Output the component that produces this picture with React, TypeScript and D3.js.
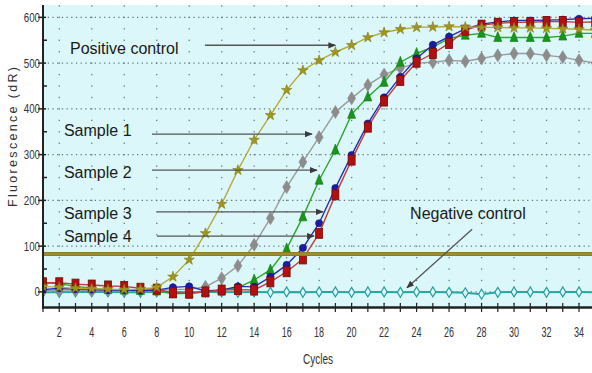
import React from 'react';
import * as d3 from 'd3';

const cycles = d3.range(1, 36);
const positiveControl = [12, 10, 8, 7, 6, 5, 6, 10, 33, 70, 128, 192, 266, 332, 386, 441, 484, 506, 524, 539, 556, 567, 574, 578, 579, 580, 579, 578, 578, 577, 577, 576, 575, 574, 572];
const sample1 = [3, 4, 4, 3, 3, 3, 3, 4, 5, 6, 11, 30, 57, 103, 161, 229, 284, 338, 393, 423, 452, 475, 489, 500, 502, 506, 504, 510, 517, 521, 521, 517, 513, 506, 500];
const sample2 = [20, 18, 12, 8, 5, 4, 3, 2, -4, -3, 0, 4, 9, 26, 48, 94, 164, 244, 310, 388, 426, 458, 502, 521, 535, 554, 561, 565, 556, 556, 556, 556, 559, 565, 565];
const sample3 = [5, 8, 6, 5, 4, 4, 3, 4, 10, 12, 2, 4, 12, 11, 33, 59, 96, 150, 227, 299, 368, 425, 470, 510, 540, 558, 575, 585, 590, 593, 593, 594, 595, 597, 598];
const sample4 = [20, 20, 17, 15, 13, 12, 8, 6, -2, -3, 0, 4, 5, 4, 22, 44, 72, 128, 212, 288, 360, 417, 462, 502, 521, 543, 572, 583, 587, 589, 589, 591, 591, 589, 590];
const negativeControl = [-1, -1, 0, 0, 0, -1, -1, 0, 0, -1, 0, 0, -1, 0, -1, 0, -1, 0, 0, -1, 0, 0, -1, 0, 0, -1, -2, -5, -1, 0, 0, -1, 0, 0, -1];
const thresholdValue = 83;

const yTicks = [0, 100, 200, 300, 400, 500, 600];
const xTickLabels = [2, 4, 6, 8, 10, 12, 14, 16, 18, 20, 22, 24, 26, 28, 30, 32, 34];

const annotationTexts = ['Positive control', 'Sample 1', 'Sample 2', 'Sample 3', 'Sample 4', 'Negative control'];
const annotationTextPos = [[2.66, 521], [2.29, 340], [2.29, 249], [2.29, 159], [2.29, 109], [23.6, 159]];
const annotationArrows = [
  [[10.97, 539], [19.0, 539]],
  [[7.71, 345], [17.56, 345]],
  [[7.71, 266], [17.87, 266]],
  [[8.02, 175], [18.24, 175]],
  [[8.02, 122], [17.69, 122]],
  [[27.42, 137], [23.41, 9]],
];

const W = 592, H = 373;
const x = d3.scaleLinear().domain([1, 34.8]).range([43, 592]);
const y = d3.scaleLinear().domain([-33, 627]).range([307, 5]);

type Series = { name: string; values: number[]; line: string; fill: string; stroke: string; kind: string };

const series: Series[] = [
  { name: 'neg', values: negativeControl, line: '#2aa5a5', fill: '#dff8fa', stroke: '#2a9e9e', kind: 'openDiamond' },
  { name: 's1', values: sample1, line: '#9a9a9a', fill: '#8c8c8c', stroke: '#8c8c8c', kind: 'diamond' },
  { name: 's2', values: sample2, line: '#2ea52e', fill: '#18951a', stroke: '#127a12', kind: 'triangle' },
  { name: 's3', values: sample3, line: '#2a2ab0', fill: '#1c1ca0', stroke: '#10107a', kind: 'circle' },
  { name: 's4', values: sample4, line: '#b84040', fill: '#b01010', stroke: '#7a0a0a', kind: 'square' },
  { name: 'pos', values: positiveControl, line: '#b3aa3c', fill: '#a0961f', stroke: '#857c14', kind: 'star' },
];

function Marker({ kind, cx, cy, fill, stroke }: { kind: string; cx: number; cy: number; fill: string; stroke: string }) {
  if (kind === 'square') return <rect x={cx - 3.5} y={cy - 5} width={7} height={10} fill={fill} stroke={stroke} strokeWidth={0.8} />;
  if (kind === 'circle') return <circle cx={cx} cy={cy} r={3.6} fill={fill} stroke={stroke} strokeWidth={0.6} />;
  if (kind === 'diamond') return <path d={`M${cx},${cy - 6.5}L${cx + 4},${cy}L${cx},${cy + 6.5}L${cx - 4},${cy}Z`} fill={fill} stroke={stroke} strokeWidth={0.6} />;
  if (kind === 'openDiamond') return <path d={`M${cx},${cy - 5}L${cx + 3},${cy}L${cx},${cy + 5}L${cx - 3},${cy}Z`} fill={fill} stroke={stroke} strokeWidth={1.2} />;
  if (kind === 'triangle') return <path d={`M${cx},${cy - 6}L${cx + 4},${cy + 4}L${cx - 4},${cy + 4}Z`} fill={fill} stroke={stroke} strokeWidth={0.6} />;
  const s = d3.symbol().type(d3.symbolStar).size(34)();
  return <path d={s as string} transform={`translate(${cx},${cy})`} fill={fill} stroke={stroke} strokeWidth={0.6} />;
}

export default function App() {
  const line = d3.line<number>().x((_, i) => x(cycles[i])).y((d) => y(d));
  const dotValues = d3.range(-25, 627, 25);
  return (
    <svg width={W} height={H} style={{ position: 'absolute', left: 0, top: 0, background: '#fff' }} fontFamily="'Liberation Sans', Arial, sans-serif">
      <defs>
        <clipPath id="plot"><rect x={43} y={5} width={W - 43} height={302} /></clipPath>
        <marker id="arr" viewBox="0 0 10 10" refX="9" refY="5" markerWidth="6" markerHeight="6" orient="auto">
          <path d="M0,1L10,5L0,9Z" fill="#3a3a3a" />
        </marker>
      </defs>
      <rect x={43} y={5} width={W - 43} height={302} fill="#dcf7fa" />
      {yTicks.map((v) => (
        <line key={'hg' + v} x1={43} x2={W} y1={y(v)} y2={y(v)} stroke="#6a7a7a" strokeWidth={1.2} strokeDasharray="1.3 3.4" />
      ))}
      {xTickLabels.map((c) =>
        dotValues.map((v) => <rect key={'vd' + c + '_' + v} x={x(c) - 0.6} y={y(v) - 0.6} width={1.3} height={1.3} fill="#6a7a7a" />)
      )}
      <g clipPath="url(#plot)">
        {series.map((s) => (
          <g key={s.name}>
            <path d={line(s.values) as string} fill="none" stroke={s.line} strokeWidth={s.name === 'neg' ? 2 : 1.4} />
            {s.values.map((v, i) => (
              <Marker key={i} kind={s.kind} cx={x(cycles[i])} cy={y(v)} fill={s.fill} stroke={s.stroke} />
            ))}
          </g>
        ))}
        <line x1={43} x2={W} y1={y(thresholdValue)} y2={y(thresholdValue)} stroke="#8c7d2a" strokeWidth={4} />
        <line x1={43} x2={W} y1={y(thresholdValue)} y2={y(thresholdValue)} stroke="#a39535" strokeWidth={1.5} />
      </g>
      <line x1={43} x2={43} y1={5} y2={309} stroke="#222" strokeWidth={2} />
      {yTicks.map((v) => (
        <line key={'yt' + v} x1={38} x2={46} y1={y(v)} y2={y(v)} stroke="#222" strokeWidth={1.5} />
      ))}
      {yTicks.slice(0, -1).map((v) => (
        <line key={'ym' + v} x1={42} x2={47} y1={y(v + 50)} y2={y(v + 50)} stroke="#222" strokeWidth={1.5} />
      ))}
      <line x1={43} x2={W} y1={307.5} y2={307.5} stroke="#222" strokeWidth={2.5} />
      {cycles.map((c) => (
        <line key={'xt' + c} x1={x(c)} x2={x(c)} y1={303} y2={312} stroke="#222" strokeWidth={1.2} />
      ))}
      {yTicks.map((v) => (
        <text key={'yl' + v} transform={`translate(40,${y(v) + 4.5}) scale(0.75,1)`} textAnchor="end" fontSize={13} fill="#333">{v}</text>
      ))}
      {xTickLabels.map((c) => (
        <text key={'xl' + c} transform={`translate(${x(c)},337) scale(0.6,1)`} textAnchor="middle" fontSize={15} fill="#333">{c}</text>
      ))}
      <text transform="translate(318,364) scale(0.72,1)" textAnchor="middle" fontSize={14} fill="#333">Cycles</text>
      <text transform="translate(17,137) rotate(-90)" textAnchor="middle" fontSize={12.5} fill="#333" textLength={140} lengthAdjust="spacing">Fluorescence (dR)</text>
      {annotationArrows.map((a, i) => (
        <line key={'ar' + i} x1={x(a[0][0])} y1={y(a[0][1])} x2={x(a[1][0])} y2={y(a[1][1])} stroke="#555" strokeWidth={1.3} markerEnd="url(#arr)" />
      ))}
      {annotationTexts.map((t, i) => (
        <text key={'at' + i} x={x(annotationTextPos[i][0])} y={y(annotationTextPos[i][1])} fontSize={16} fill="#1a1a1a">{t}</text>
      ))}
    </svg>
  );
}
